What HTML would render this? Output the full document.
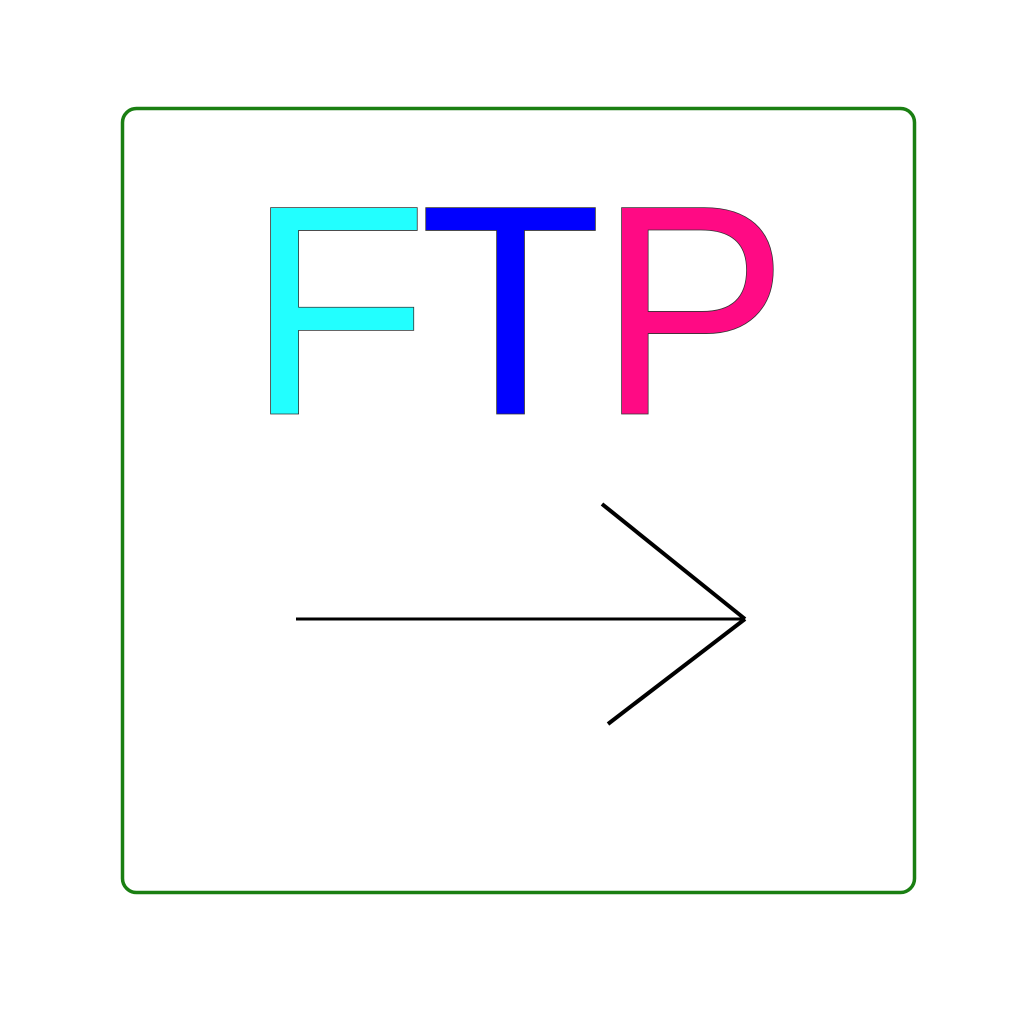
<!DOCTYPE html>
<html>
<head>
<meta charset="utf-8">
<style>
  html,body{margin:0;padding:0;background:#fff;}
  svg{display:block;}
</style>
</head>
<body>
<svg width="1024" height="1024" viewBox="0 0 1024 1024">
  <rect x="0" y="0" width="1024" height="1024" fill="#fff"/>
  <rect x="122.5" y="108.5" width="792" height="784" rx="14" ry="14" fill="none" stroke="#1a7f12" stroke-width="3.5"/>
  <g font-family="'Liberation Sans', sans-serif" font-size="300" stroke="#333" stroke-width="0.8">
    <text x="246" y="414" fill="#22ffff">F</text>
    <text x="419" y="414" fill="#0000ff">T</text>
    <text x="597" y="414" fill="#ff0a84" transform="translate(621 0) scale(0.95 1) translate(-621 0)">P</text>
  </g>
  <g stroke="#000" stroke-linecap="butt" fill="none">
    <line x1="296" y1="619" x2="745" y2="619" stroke-width="3"/>
    <line x1="602" y1="504" x2="745" y2="619" stroke-width="4"/>
    <line x1="745" y1="619" x2="608" y2="724" stroke-width="4"/>
  </g>
</svg>
</body>
</html>
